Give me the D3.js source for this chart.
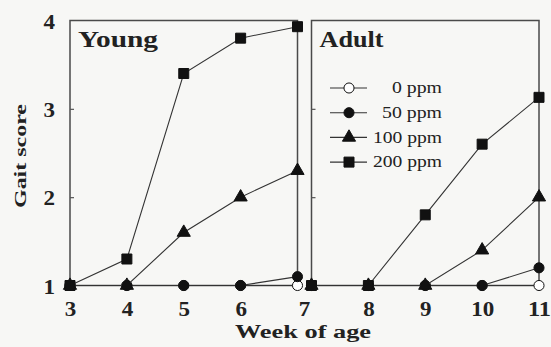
<!DOCTYPE html>
<html>
<head>
<meta charset="utf-8">
<script src="https://cdn.jsdelivr.net/npm/d3@7"></script>
<style>
  body { margin: 0; background: #f7f7f5; }
  svg { display: block; font-family: "Liberation Serif", "Times New Roman", serif; }
</style>
</head>
<body>
<svg id="chart"></svg>
<script>
var weeksYoung = [3, 4, 5, 6, 7];
var weeksAdult = [7, 8, 9, 10, 11];
var doses = ["0 ppm", "50 ppm", "100 ppm", "200 ppm"];
var young0 = [1, 1, 1, 1, 1];
var young50 = [1, 1, 1, 1, 1.1];
var young100 = [1, 1, 1.6, 2.0, 2.3];
var young200 = [1, 1.3, 3.4, 3.8, 3.93];
var adult0 = [1, 1, 1, 1, 1];
var adult50 = [1, 1, 1, 1, 1.2];
var adult100 = [1, 1, 1, 1.4, 2.0];
var adult200 = [1, 1, 1.8, 2.6, 3.13];
var yTicks = [1, 2, 3, 4];

var W = 551, H = 347;
var svg = d3.select('#chart').attr('width', W).attr('height', H);

var xL = d3.scaleLinear().domain([3, 7]).range([70, 297.5]);
var xR = d3.scaleLinear().domain([7, 11]).range([311.5, 539]);
var y = d3.scaleLinear().domain([1, 4]).range([285.5, 20.5]);

var symbols = [
    {type: d3.symbolCircle, size: 80, fill: '#ffffff'},
    {type: d3.symbolCircle, size: 80, fill: '#111'},
    {type: d3.symbolTriangle, size: 75, fill: '#111'},
    {type: d3.symbolSquare, size: 100, fill: '#111'}
];

// the original picture is stretched sideways, so text gets a fixed width
function stretched(sel, width) {
    return sel.attr('textLength', width).attr('lengthAdjust', 'spacingAndGlyphs');
}

function drawPanel(x, weeks, series, title, titleWidth) {
    var g = svg.append('g');
    var x0 = x.range()[0], x1 = x.range()[1];

    // frame
    g.append('rect')
        .attr('x', x0).attr('y', y(4))
        .attr('width', x1 - x0).attr('height', y(1) - y(4))
        .style('fill', 'none')
        .style('stroke', '#4a4a4a')
        .style('stroke-width', 1.5);

    // small inward y ticks
    g.append('g')
        .attr('transform', 'translate(' + x0 + ',0)')
        .call(d3.axisRight(y).tickValues([2, 3]).tickSize(4).tickFormat(''))
        .call(function(a) {
            a.select('.domain').remove();
            a.selectAll('line').style('stroke', '#555').style('stroke-width', 1.2);
        });

    g.append('text')
        .attr('x', x0 + 8).attr('y', 47)
        .style('font-size', '24px').style('font-weight', 'bold')
        .style('fill', '#222')
        .text(title)
        .call(stretched, titleWidth);

    var line = d3.line()
        .x(function(d) { return x(d.w); })
        .y(function(d) { return y(d.v); });

    series.forEach(function(vals, i) {
        var pts = weeks.map(function(w, j) { return {w: w, v: vals[j]}; });
        g.append('path')
            .datum(pts)
            .attr('d', line)
            .style('fill', 'none')
            .style('stroke', '#333')
            .style('stroke-width', 1.1);
        g.selectAll('.m' + i)
            .data(pts)
            .enter()
            .append('path')
            .attr('class', 'm' + i)
            .attr('transform', function(d) { return 'translate(' + x(d.w) + ',' + y(d.v) + ')'; })
            .attr('d', d3.symbol().type(symbols[i].type).size(symbols[i].size))
            .style('fill', symbols[i].fill)
            .style('stroke', '#111')
            .style('stroke-width', 1);
    });
}

drawPanel(xL, weeksYoung, [young0, young50, young100, young200], 'Young', 80);
drawPanel(xR, weeksAdult, [adult0, adult50, adult100, adult200], 'Adult', 64);

function tickText(a) {
    a.select('.domain').remove();
    a.selectAll('text')
        .style('font-family', '"Liberation Serif", serif')
        .style('font-size', '20px').style('font-weight', 'bold')
        .style('fill', '#222')
        .attr('textLength', function(d) { return String(d).length * 11.5; })
        .attr('lengthAdjust', 'spacingAndGlyphs');
}

// y tick labels
svg.append('g')
    .attr('transform', 'translate(70,0)')
    .call(d3.axisLeft(y).tickValues(yTicks).tickSize(0).tickPadding(15).tickFormat(d3.format('d')))
    .call(tickText)
    .selectAll('text').attr('dy', '0.38em');

// x tick labels
function xLabels(scale, ticks) {
    svg.append('g')
        .attr('transform', 'translate(0,' + y(1) + ')')
        .call(d3.axisBottom(scale).tickValues(ticks).tickSize(0).tickPadding(16).tickFormat(d3.format('d')))
        .call(tickText);
}
xLabels(xL, [3, 4, 5, 6]);
xLabels(xR, [8, 9, 10, 11]);
// shared "7" between the panels
svg.append('text')
    .attr('x', (xL(7) + xR(7)) / 2).attr('y', 316)
    .style('text-anchor', 'middle')
    .style('font-size', '20px').style('font-weight', 'bold')
    .style('fill', '#222')
    .text('7')
    .call(stretched, 11.5);

svg.append('text')
    .attr('x', 303).attr('y', 338)
    .style('text-anchor', 'middle')
    .style('font-size', '18px').style('font-weight', 'bold')
    .style('fill', '#222')
    .text('Week of age')
    .call(stretched, 136);

svg.append('text')
    .attr('transform', 'translate(26,' + 156 + ')rotate(-90)')
    .style('text-anchor', 'middle')
    .style('font-size', '17px').style('font-weight', 'bold')
    .style('fill', '#222')
    .text('Gait score')
    .call(stretched, 104);

// legend
var legendWidths = [50, 60, 69, 69];
var legend = svg.append('g').attr('transform', 'translate(330,88)');
doses.forEach(function(name, i) {
    var row = legend.append('g').attr('transform', 'translate(0,' + (i * 24.7) + ')');
    row.append('line')
        .attr('x1', 0).attr('x2', 37)
        .style('stroke', '#333').style('stroke-width', 1.1);
    row.append('path')
        .attr('transform', 'translate(19,0)')
        .attr('d', d3.symbol().type(symbols[i].type).size(symbols[i].size))
        .style('fill', symbols[i].fill)
        .style('stroke', '#111')
        .style('stroke-width', 1);
    row.append('text')
        .attr('x', 112).attr('y', 0).attr('dy', '0.32em')
        .style('text-anchor', 'end')
        .style('font-size', '16px')
        .style('fill', '#222')
        .text(name)
        .call(stretched, legendWidths[i]);
});
</script>
</body>
</html>
